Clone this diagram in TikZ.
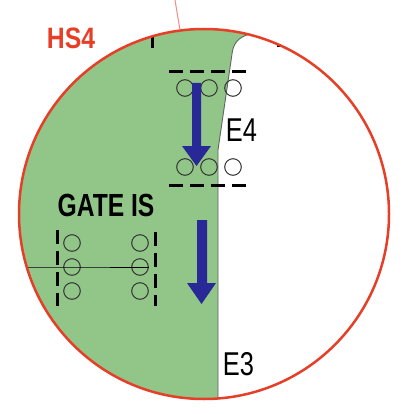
\documentclass[tikz,border=0pt]{standalone}
\usepackage{fontspec}
\setmainfont{Liberation Sans}
\definecolor{hsred}{RGB}{231,62,40}
\definecolor{lightred}{RGB}{240,140,130}
\definecolor{gfill}{RGB}{145,198,136}
\definecolor{bluearr}{RGB}{40,40,150}
\definecolor{edgegray}{RGB}{100,100,100}
\begin{document}
\begin{tikzpicture}[x=1pt,y=-1pt,
  dashline/.style={line width=3pt,dash pattern=on 13.5pt off 7.5pt},
  ball/.style={circle,draw=black!80,line width=1pt,minimum size=16.6pt,inner sep=0pt},
  arrowfill/.style={fill=bluearr,draw=none},
  thinlabel/.style={inner sep=0pt,font=\fontsize{33}{33}\selectfont}
  ]
\useasboundingbox (0,0) rectangle (405,414);
\coordinate (C) at (204,214);
\begin{scope}
  \clip (C) circle[radius=185];
  \fill[gfill] (-10,-10) -- (262,-10) -- (262,30) -- (250,34) .. controls (238,37) and (233,44) .. (232,54) -- (218,150) -- (218,420) -- (-10,420) -- cycle;
  \draw[edgegray,line width=0.9pt] (262,30) -- (250,34) .. controls (238,37) and (233,44) .. (232,54) -- (218,150) -- (218,420);
  \draw[line width=3pt] (152,30) -- (152,48);
  \draw[line width=3pt] (278,30) -- (278,47);
  \coordinate (hl) at (0,267);
  % circles
  \node[ball] (t1) at (185,88) {};
  \node[ball] (t2) at (209,88) {};
  \node[ball] (t3) at (233,88) {};
  \node[ball] (b1) at (185,167) {};
  \node[ball] (b2) at (209,167) {};
  \node[ball] (b3) at (233,167) {};
  \node[ball] (l1) at (72,243) {};
  \node[ball] (l2) at (72,267) {};
  \node[ball] (l3) at (72,291) {};
  \node[ball] (r1) at (140,243) {};
  \node[ball] (r2) at (140,267) {};
  \node[ball] (r3) at (140,291) {};
  \draw[black,line width=1pt] (hl) -- (l2.center) -- (r2.east);
  % dashed lines
  \draw[dashline] (169,72) -- (246,72);
  \draw[dashline] (169,185) -- (246,185);
  \draw[dashline] (57,230) -- (57,306);
  \draw[dashline] (155,232) -- (155,306);
  % arrows
  \fill[arrowfill] (192,83) -- (201,83) -- (201,146) -- (211,146) -- (196.5,166) -- (182,146) -- (192,146) -- cycle;
  \fill[arrowfill] (197,220) -- (207,220) -- (207,283) -- (216,283) -- (201.5,304) -- (187,283) -- (197,283) -- cycle;
\end{scope}
\draw[hsred,line width=2.5pt] (C) circle[radius=185];
\coordinate (ltop) at (175,0);
\coordinate (lbot) at (180,30);
\draw[lightred,line width=1pt] (ltop) -- (lbot);
% labels
\node[inner sep=0pt,text=hsred,font=\bfseries\fontsize{29.5}{29.5}\selectfont] (hs4) at (71,38) {\scalebox{0.84}[1]{HS4}};
\node[inner sep=0pt,font=\bfseries\fontsize{32}{32}\selectfont] (gate) at (106,205) {\scalebox{0.77}[1]{GATE IS}};
\node[thinlabel] (e4) at (241.5,130) {\scalebox{0.77}[1]{E4}};
\node[thinlabel] (e3) at (238.5,364) {\scalebox{0.77}[1]{E3}};
\end{tikzpicture}
\end{document}
